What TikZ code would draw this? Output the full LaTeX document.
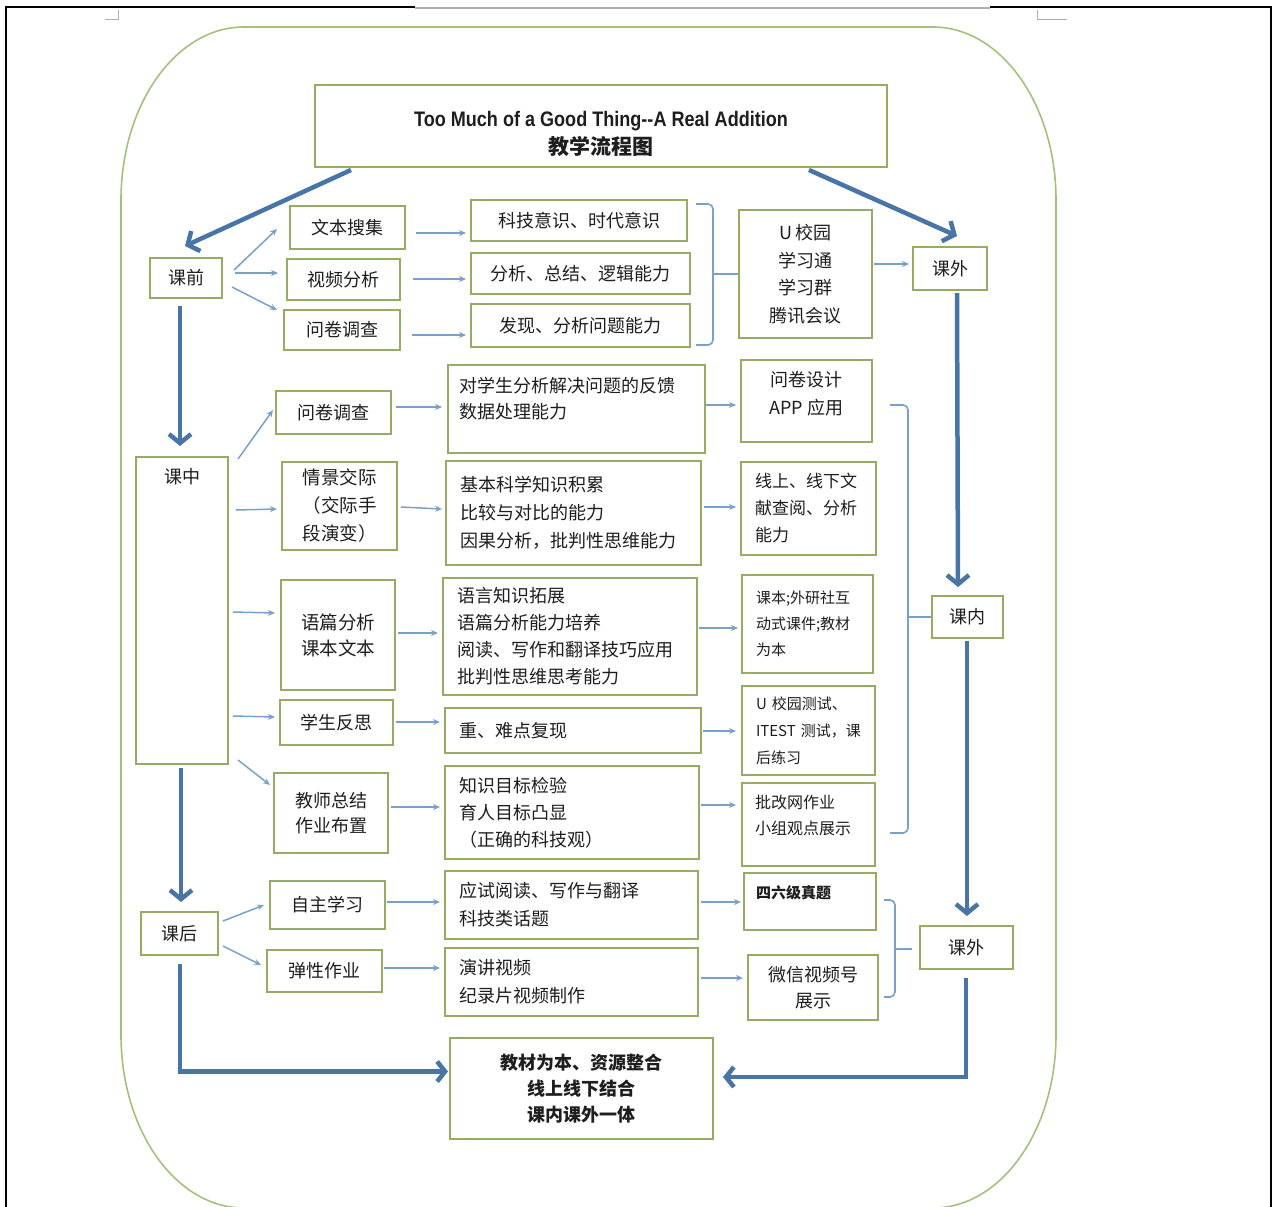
\documentclass[tikz,border=0pt]{standalone}
\usepackage{fontspec}
\setmainfont{Noto Sans CJK SC}
\newfontfamily\titlefont[FakeStretch=0.86]{Liberation Sans}
\usetikzlibrary{arrows.meta,calc}
\definecolor{boxc}{RGB}{150,172,98}
\definecolor{outc}{RGB}{165,192,125}
\definecolor{thinc}{RGB}{120,160,203}
\definecolor{thickc}{RGB}{72,116,166}
\definecolor{txtc}{RGB}{30,30,30}
\definecolor{markc}{RGB}{175,175,175}
\tikzset{
 bx/.style={draw=boxc, line width=2pt, fill=white, text=txtc, font=\fontsize{18}{27}\selectfont, inner sep=0pt, align=center},
 sz/.style 2 args={minimum width=#1pt, minimum height=#2pt},
 lt/.style={align=left, inner xsep=14pt, inner ysep=0pt, text width=#1pt},
 tarr/.style={draw=thinc, line width=1.5pt, -{Stealth[length=7pt,width=6pt]}},
 karr/.style={draw=thickc, line width=4.5pt, -{Straight Barb[length=9pt,width=22pt]}},
 brk/.style={draw=thinc, line width=1.6pt, rounded corners=5pt},
 lbl/.style={text=txtc, inner sep=0pt, align=left},
}
\begin{document}
\begin{tikzpicture}[x=1pt,y=-1pt]
\useasboundingbox (0,0) rectangle (1274,1207);
% page frame
\draw[line width=2.5pt] (6,1207) -- (6,7) -- (415,7);
\draw[line width=1.5pt, markc] (415,8) -- (990,8);
\draw[line width=2.5pt] (990,7) -- (1271,7) -- (1271,1207);
\draw[markc, line width=1pt] (118,10) -- (118,20) -- (105,20);
\draw[markc, line width=1pt] (1037,10) -- (1037,20) -- (1067,20);
% outer rounded frame
\draw[outc, line width=1.6pt] (244,27) -- (933,27)
  arc[start angle=-90, end angle=0, x radius=123, y radius=173] -- (1056,1035)
  arc[start angle=0, end angle=90, x radius=123, y radius=173] -- (244,1208)
  arc[start angle=90, end angle=180, x radius=123, y radius=173] -- (121,200)
  arc[start angle=180, end angle=270, x radius=123, y radius=173] -- cycle;

% title
\node[bx, sz={572}{82}] (title) at (601,126) {};
\node[lbl, align=center] (ttltxt) at (601,134) {{\titlefont\bfseries\fontsize{21}{22}\selectfont Too Much of a Good Thing--A Real Addition}\\[5pt]{\bfseries\fontsize{21}{24}\selectfont 教学流程图}};

% pre-class
\node[bx, sz={72}{40}] (kq) at (186,278) {课前};
\node[bx, sz={115}{43}] (a1) at (347.5,227.5) {文本搜集};
\node[bx, sz={113}{41}] (a2) at (343.5,279.5) {视频分析};
\node[bx, sz={116}{40}] (a3) at (342,330) {问卷调查};
\node[bx, sz={216}{41}] (b1) at (579,220.5) {科技意识、时代意识};
\node[bx, sz={219}{41}] (b2) at (580.5,273.5) {分析、总结、逻辑能力};
\node[bx, sz={219}{43}] (b3) at (580.5,325.5) {发现、分析问题能力};
\node[bx, sz={133}{128}, font=\fontsize{18}{27.5}\selectfont] (u1) at (805.5,274) {U 校园\\学习通\\学习群\\腾讯会议};
\node[bx, sz={74}{43}] (kw1) at (950,268.5) {课外};

% in-class
\node[bx, sz={92}{307}, label={[lbl, font=\fontsize{18}{27}\selectfont, anchor=north, yshift=-12pt]north:课中}] (kz) at (182,610.5) {};
\node[bx, sz={115}{43}] (c1) at (333.5,412.5) {问卷调查};
\node[bx, sz={257}{88}, label={[lbl, font=\fontsize{18}{26}\selectfont, anchor=north west, xshift=12pt, yshift=-13pt]north west:{对学生分析解决问题的反馈\\数据处理能力}}] (d1) at (576.5,409) {};
\node[bx, sz={131}{82}, label={[lbl, align=center, font=\fontsize{18}{28}\selectfont, anchor=north, yshift=-12pt]north:{问卷设计\\APP 应用}}] (e1) at (806.5,401) {};
\node[bx, sz={115}{88}, align=left, font=\fontsize{18.5}{28}\selectfont] (c2) at (339.5,506) {情景交际\\（交际手\\段演变）};
\node[bx, lt=227, sz={255}{104}, font=\fontsize{18}{28}\selectfont] (d2) at (573.5,513) {基本科学知识积累\\比较与对比的能力\\因果分析，批判性思维能力};
\node[bx, lt=107, sz={135}{93}, font=\fontsize{17}{27}\selectfont] (e2) at (808.5,508.5) {线上、线下文\\献查阅、分析\\能力};
\node[bx, sz={114}{110}, font=\fontsize{18.5}{26}\selectfont] (c3) at (338,635) {语篇分析\\课本文本};
\node[bx, lt=226, sz={254}{117}] (d3) at (570,636.5) {语言知识拓展\\语篇分析能力培养\\阅读、写作和翻译技巧应用\\批判性思维思考能力};
\node[bx, lt=103, sz={131}{98}, font=\fontsize{15}{26}\selectfont] (e3) at (807.5,624) {课本;外研社互\\动式课件;教材\\为本};
\node[bx, sz={113}{45}] (c4) at (336.5,722.5) {学生反思};
\node[bx, lt=228, sz={256}{45}] (d4) at (573,730.5) {重、难点复现};
\node[bx, lt=105, sz={133}{89}, font=\fontsize{15}{27}\selectfont] (e4) at (808.5,730.5) {U 校园测试、\\ITEST 测试，课\\后练习};
\node[bx, sz={114}{80}, font=\fontsize{18}{25}\selectfont] (c5) at (331,813) {教师总结\\作业布置};
\node[bx, lt=226, sz={254}{93}] (d5) at (572,812.5) {知识目标检验\\育人目标凸显\\（正确的科技观）};
\node[bx, sz={133}{83}, label={[lbl, font=\fontsize{16}{26}\selectfont, anchor=north west, xshift=14pt, yshift=-13pt]north west:{批改网作业\\小组观点展示}}] (e5) at (808.5,824.5) {};
\node[bx, sz={71}{42}] (kn) at (967.5,617) {课内};
\node[bx, sz={93}{43}] (kw2) at (966.5,947.5) {课外};

% after class
\node[bx, sz={77}{43}] (kh) at (179.5,933.5) {课后};
\node[bx, sz={115}{48}] (f1) at (327.5,905) {自主学习};
\node[bx, sz={115}{42}] (f2) at (324.5,971) {弹性作业};
\node[bx, lt=225, sz={253}{68}, font=\fontsize{18}{28}\selectfont] (g1) at (571.5,905) {应试阅读、写作与翻译\\科技类话题};
\node[bx, lt=225, sz={253}{68}, font=\fontsize{18}{28}\selectfont] (g2) at (571.5,982) {演讲视频\\纪录片视频制作};
\node[bx, sz={132}{57}, label={[lbl, font=\bfseries\fontsize{15}{20}\selectfont, anchor=north west, xshift=13pt, yshift=-13pt]north west:四六级真题}] (h1) at (810,901.5) {};
\node[bx, sz={130}{65}, font=\fontsize{18}{26}\selectfont] (h2) at (813,987.5) {微信视频号\\展示};
\node[bx, sz={263}{101}, font=\bfseries\fontsize{18}{26}\selectfont] (fin) at (581.5,1088.5) {教材为本、资源整合\\线上线下结合\\课内课外一体};

% brackets
\coordinate (br1t) at (696,204); \coordinate (br1b) at (696,345);
\coordinate (br1m) at (713,274);
\draw[brk] (br1t) -- (713,204) -- (713,345) -- (br1b);
\draw[brk] (br1m) -- (u1.west);
\coordinate (br2t) at (890,405); \coordinate (br2b) at (890,833);
\coordinate (br2m) at (908,617);
\draw[brk] (br2t) -- (908,405) -- (908,833) -- (br2b);
\draw[brk] (br2m) -- (kn.west);
\coordinate (br3t) at (884,900); \coordinate (br3b) at (884,997);
\coordinate (br3m) at (895,949); \coordinate (br3e) at (912,949);
\draw[brk] (br3t) -- (895,900) -- (895,997) -- (br3b);
\draw[brk] (br3m) -- (br3e);

% thin arrows
\draw[tarr] ($(kq.east)+(11,-8)$) -- ($(a1.west)+(-12,1.5)$);
\draw[tarr] ($(kq.east)+(12,-5)$) -- ($(a2.west)+(-8,-6.5)$);
\draw[tarr] ($(kq.east)+(9,9)$) -- ($(a3.west)+(-6,-20)$);
\draw[tarr] ($(a1.east)+(10,5.5)$) -- ($(b1.west)+(-4,12.5)$);
\draw[tarr] ($(a2.east)+(12,-0.5)$) -- ($(b2.west)+(-4,5.5)$);
\draw[tarr] ($(a3.east)+(11,5)$) -- ($(b3.west)+(-4,9.5)$);
\draw[tarr] ($(u1.east)+(1,-10)$) -- ($(kw1.west)+(-3,-4.5)$);

\draw[tarr] ($(kz.north east)+(9,3)$) -- ($(c1.west)+(-2,-2.5)$);
\draw[tarr] ($(c1.east)+(4,-5.5)$) -- ($(d1.west)+(-5,-2)$);
\draw[tarr] ($(d1.east)+(0,-4)$) -- ($(e1.west)+(-4,4)$);
\draw[tarr] ($(kz.north east)+(7,54)$) -- ($(c2.west)+(-4,3)$);
\draw[tarr] ($(c2.east)+(3,1)$) -- ($(d2.west)+(-3,-4)$);
\draw[tarr] ($(d2.east)+(2,-6)$) -- ($(e2.west)+(-4,-1.5)$);
\draw[tarr] ($(kz.north east)+(4,156)$) -- ($(c3.west)+(-5,-22)$);
\draw[tarr] ($(c3.east)+(2,-2)$) -- ($(d3.west)+(-4,-3.5)$);
\draw[tarr] ($(d3.east)+(1,-8.5)$) -- ($(e3.west)+(-3,4)$);
\draw[tarr] ($(kz.north east)+(4,260)$) -- ($(c4.west)+(-4,-5.5)$);
\draw[tarr] ($(c4.east)+(2,-0.5)$) -- ($(d4.west)+(-4,-8.5)$);
\draw[tarr] ($(d4.east)+(1,0.5)$) -- ($(e4.west)+(-5,0.5)$);
\draw[tarr] ($(kz.south east)+(9,-5)$) -- ($(c5.west)+(-3,-28)$);
\draw[tarr] ($(c5.east)+(2,-6)$) -- ($(d5.west)+(-4,-5.5)$);
\draw[tarr] ($(d5.east)+(1,-7.5)$) -- ($(e5.west)+(-5,-19.5)$);

\draw[tarr] ($(kh.east)+(4,-12.5)$) -- ($(f1.west)+(-5,0)$);
\draw[tarr] ($(kh.east)+(4,12.5)$) -- ($(f2.west)+(-5,-6)$);
\draw[tarr] ($(f1.east)+(1,-3)$) -- ($(g1.west)+(-4,-3)$);
\draw[tarr] ($(f2.east)+(1,-3)$) -- ($(g2.west)+(-4,-14)$);
\draw[tarr] ($(g1.east)+(2,-3)$) -- ($(h1.west)+(-2,0.5)$);
\draw[tarr] ($(g2.east)+(2,-4)$) -- ($(h2.west)+(-4,-9.5)$);

% thick arrows
\draw[karr] ($(title.south west)+(37,2)$) -- ($(kq.north)+(-1,-11)$);
\draw[karr] ($(title.south east)+(-79,2)$) -- ($(kw1.north)+(7,-10)$);
\draw[karr] ($(kq.south)+(-6,7)$) -- ($(kz.north)+(-2,-10)$);
\draw[karr] ($(kz.south)+(-1,3)$) -- ($(kh.north)+(1.5,-9)$);
\draw[karr] ($(kw1.south)+(7,2)$) -- ($(kn.north)+(-9.5,-8)$);
\draw[karr] ($(kn.south)+(-0.5,2)$) -- ($(kw2.north)+(0.5,-9)$);
\draw[karr, -{Straight Barb[length=8pt,width=20pt]}] ($(kh.south)+(0.5,8)$) |- ($(fin.west)+(-1,-17)$);
\draw[karr, -{Straight Barb[length=8pt,width=20pt]}] ($(kw2.south)+(-0.5,8)$) |- ($(fin.east)+(9,-11.5)$);
\end{tikzpicture}
\end{document}
